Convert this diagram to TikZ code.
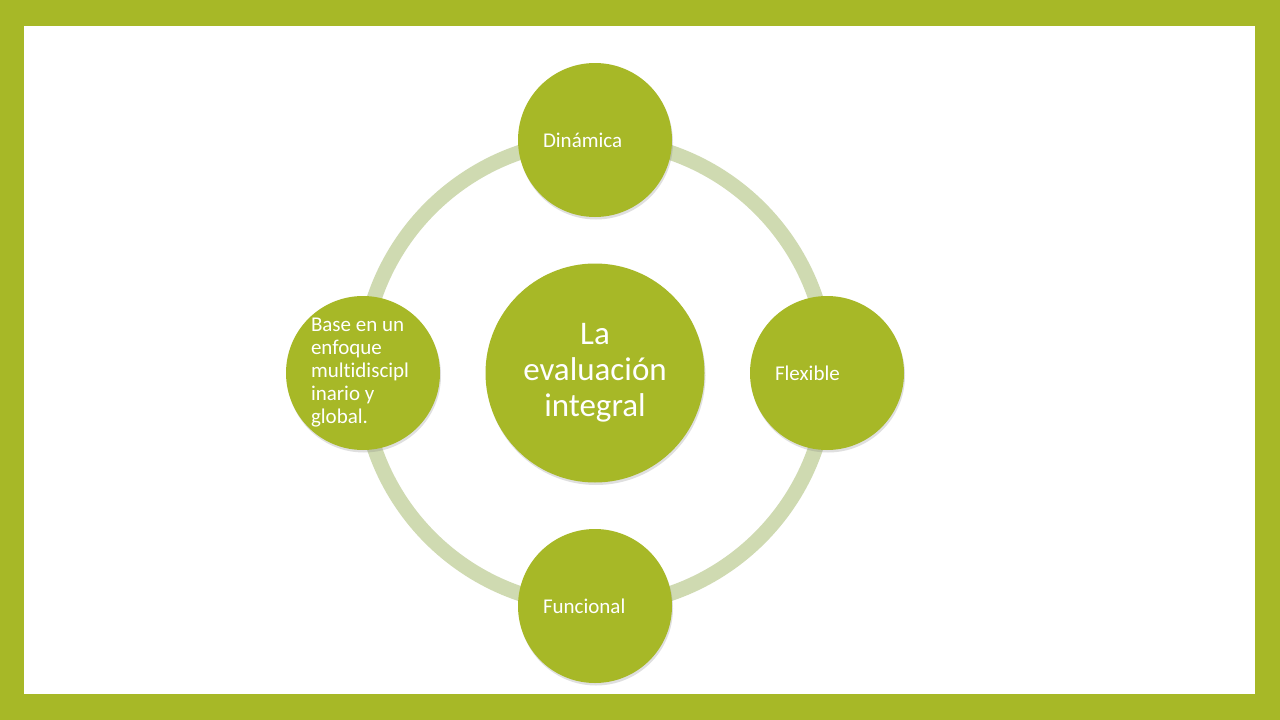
\documentclass[tikz,border=0pt]{standalone}
\usepackage{fontspec}
\setmainfont{Carlito}[Ligatures={NoCommon}]
\usetikzlibrary{shadows}
\definecolor{frame}{HTML}{A7B827}
\definecolor{disc}{HTML}{A7B827}
\definecolor{ringc}{HTML}{CFDAB1}
\tikzset{
  satellite/.style={circle, fill=disc, minimum size=154pt, inner sep=0pt,
    text=white, text width=104pt, align=flush left,
    font=\fontsize{21}{23}\selectfont,
    drop shadow={opacity=0.25, shadow xshift=1pt, shadow yshift=-2.5pt}},
  hub/.style={circle, fill=disc, minimum size=219pt, inner sep=0pt,
    text=white, align=center, font=\fontsize{33}{36}\selectfont,
    drop shadow={opacity=0.25, shadow xshift=1pt, shadow yshift=-2.5pt}},
  ring/.style={draw=ringc, line width=15pt}
}
\begin{document}
\begin{tikzpicture}[x=1pt,y=-1pt]
\useasboundingbox (0,0) rectangle (1280,720);
\fill[frame] (0,0) rectangle (1280,720);
\fill[white] (24,26) rectangle (1255,694);
\coordinate (c) at (595,373);
\draw[ring] (c) circle (233);
\node[hub] (hubn) at (c) {La\\evaluación\\integral};
\node[satellite] (top) at (595,140) {Dinámica};
\node[satellite] (right) at (827,373) {Flexible};
\node[satellite] (bottom) at (595,606) {Funcional};
\node[satellite] (left) at (363,373) {Base en un\\enfoque\\multidiscipl\\inario y\\global.};
\end{tikzpicture}
\end{document}
